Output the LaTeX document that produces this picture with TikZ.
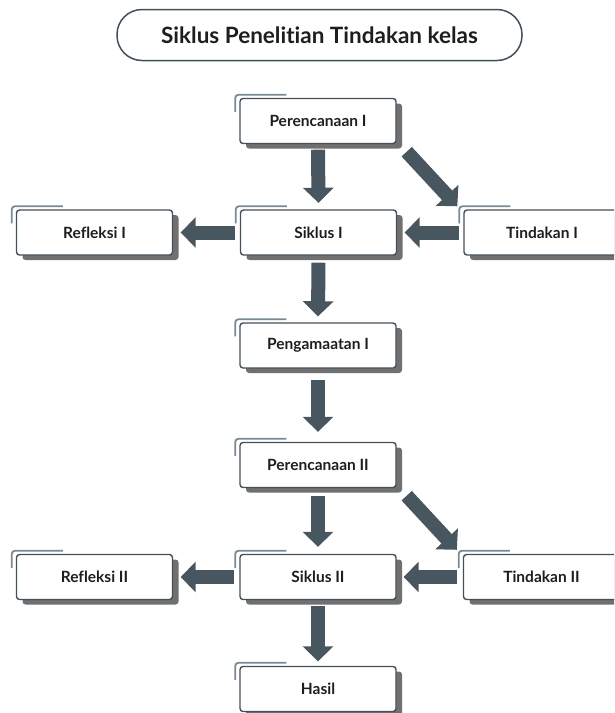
\documentclass[tikz,border=0pt]{standalone}
\usepackage{fontspec}
\setmainfont{Lato}[Ligatures=NoCommon]
\usetikzlibrary{arrows.meta,shadows,backgrounds}
\definecolor{boxline}{RGB}{66,80,90}
\definecolor{arrowc}{RGB}{72,86,96}
\definecolor{shadowc}{RGB}{112,112,112}
\definecolor{tabc}{RGB}{122,136,146}
\definecolor{textc}{RGB}{30,30,30}
\tikzset{
  stepbox/.style={draw=boxline, line width=1.4pt, fill=white, rounded corners=3pt,
    minimum width=156pt, minimum height=45pt, inner sep=0pt,
    font=\fontsize{15.5}{18}\selectfont\bfseries, text=textc,
    general shadow={fill=shadowc, shadow xshift=6pt, shadow yshift=-5pt}},
  blk/.style={draw=arrowc, line width=14pt,
    -{Triangle[length=15pt 0 0, width=30pt 0 0]}},
  tabline/.style={draw=tabc, line width=1.8pt, rounded corners=3pt},
}
\newcommand{\backtab}[1]{%
  \draw[tabline] ([xshift=-4pt,yshift=-14pt]#1.north west) --
    ([xshift=-4pt,yshift=3pt]#1.north west) --
    ([xshift=47pt,yshift=3pt]#1.north west);}
\begin{document}
\begin{tikzpicture}[x=1pt,y=-1pt]
\useasboundingbox (0,0) rectangle (614,713);
\clip (0,0) rectangle (614,713);
% title
\node[draw=boxline, line width=1.5pt, rounded corners=25pt, minimum width=405pt,
  minimum height=51pt, inner sep=0pt, font=\fontsize{22.5}{26}\selectfont\bfseries, text=textc]
  (title) at (319.5,35) {Siklus Penelitian Tindakan kelas};
% boxes
\node[stepbox] (p1) at (318,121) {Perencanaan I};
\node[stepbox] (s1) at (318.5,232.5) {Siklus I};
\node[stepbox] (r1) at (94.5,232.5) {Refleksi I};
\node[stepbox] (t1) at (542,232.5) {Tindakan I};
\node[stepbox] (g1) at (318,345.5) {Pengamaatan I};
\node[stepbox] (p2) at (318,465) {Perencanaan II};
\node[stepbox] (s2) at (318,577) {Siklus II};
\node[stepbox] (r2) at (94.5,577) {Refleksi II};
\node[stepbox] (t2) at (541.5,577) {Tindakan II};
\node[stepbox] (h) at (318,689) {Hasil};
\begin{scope}[on background layer]
\foreach \n in {p1,s1,r1,t1,g1,p2,s2,r2,t2,h} {\backtab{\n}}
\end{scope}
% arrows
\draw[blk] ([yshift=-5.5pt]p1.south) -- ([yshift=6.5pt]s1.north);
\draw[blk] ([yshift=-7pt]s1.south) -- ([yshift=6pt]g1.north);
\draw[blk] ([yshift=-11pt]g1.south) -- ([yshift=10pt]p2.north);
\draw[blk] ([yshift=-8pt]p2.south) -- ([yshift=7pt]s2.north);
\draw[blk] ([yshift=-6pt]s2.south) -- ([yshift=4.5pt]h.north);
\draw[blk] ([xshift=-5pt]s1.west) -- ([xshift=7.5pt]r1.east);
\draw[blk] ([xshift=-4pt]t1.west) -- ([xshift=7.5pt]s1.east);
\draw[blk] ([xshift=-5pt]s2.west) -- ([xshift=7.5pt]r2.east);
\draw[blk] ([xshift=-5.5pt]t2.west) -- ([xshift=7pt]s2.east);
\draw[blk] ([xshift=10pt,yshift=-7.5pt]p1.south east) -- ([xshift=-6pt,yshift=3pt]t1.north west);
\draw[blk] ([xshift=10pt,yshift=-7.5pt]p2.south east) -- ([xshift=-6pt,yshift=4pt]t2.north west);
\end{tikzpicture}
\end{document}
